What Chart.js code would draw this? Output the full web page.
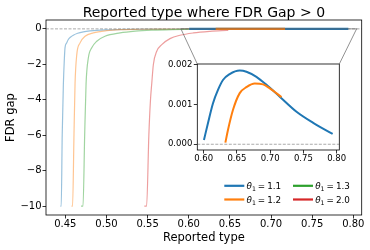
<!DOCTYPE html>
<html><head><meta charset="utf-8">
<script src="https://cdn.jsdelivr.net/npm/chart.js@4.4.0/dist/chart.umd.min.js"></script>
<style>html,body{margin:0;padding:0;background:#fff;}#wrap{position:relative;width:370px;height:250px;}canvas{position:absolute;left:0;top:0;}</style>
</head><body><div id="wrap"><canvas id="main" width="370" height="250"></canvas><canvas id="inset" width="370" height="250"></canvas></div>
<script>
// ---- data ----
const chartTitle = 'Reported type where FDR Gap > 0';
const thetaLabels = ['1.1', '1.2', '1.3', '2.0'];
const colors = ['#1f77b4', '#ff7f0e', '#2ca02c', '#d62728'];
const fadedColors = ['rgba(31,119,180,0.45)', 'rgba(255,127,14,0.45)', 'rgba(44,160,44,0.45)', 'rgba(214,39,40,0.45)'];

// full FDR gap curves (faded)
const gapX11 = [0.4440, 0.4450, 0.4462, 0.4476, 0.4487, 0.4496, 0.4515, 0.4536, 0.4565, 0.4597, 0.4650, 0.4719, 0.4800, 0.4882, 0.5000, 0.5125, 0.5300, 0.5500, 0.5750, 0.6000];
const gapY11 = [-10, -10, -6, -3.15, -1.8, -1.07, -0.8, -0.6, -0.46, -0.36, -0.25, -0.17, -0.115, -0.08, -0.055, -0.04, -0.028, -0.017, -0.008, 0];
const gapX12 = [0.4575, 0.4588, 0.4605, 0.4618, 0.4639, 0.4679, 0.4740, 0.4840, 0.5003, 0.5165, 0.5400, 0.5700, 0.6000, 0.6330];
const gapY12 = [-10, -10, -6, -3.1, -1.45, -0.79, -0.42, -0.23, -0.1, -0.045, -0.022, -0.011, -0.005, 0];
const gapX13 = [0.4691, 0.4715, 0.4735, 0.4752, 0.4780, 0.4821, 0.4882, 0.4982, 0.5165, 0.5350, 0.5550, 0.5800, 0.6100, 0.6400];
const gapY13 = [-10, -10, -6, -3.1, -1.63, -1.07, -0.70, -0.42, -0.23, -0.13, -0.075, -0.04, -0.02, -0.01];
const gapX20 = [0.5460, 0.5488, 0.5515, 0.5535, 0.5550, 0.5570, 0.5611, 0.5672, 0.5772, 0.5894, 0.6056, 0.6259, 0.6461, 0.6480];
const gapY20 = [-10, -10, -6, -4, -3.1, -2.01, -1.26, -0.89, -0.55, -0.36, -0.23, -0.14, -0.085, -0.08];

// positive part of the FDR gap (solid, also in inset)
const posX11 = [0.6005, 0.6065, 0.6140, 0.6216, 0.6291, 0.6392, 0.6543, 0.6644, 0.6794, 0.6945, 0.7145, 0.7397, 0.7647, 0.7940];
const posY11 = [0.000108, 0.00053, 0.00103, 0.00137, 0.00162, 0.00177, 0.00186, 0.00183, 0.0017, 0.0015, 0.0012, 0.00082, 0.00054, 0.00026];
const posX12 = [0.6327, 0.6366, 0.6442, 0.6543, 0.6644, 0.6769, 0.6894, 0.6995, 0.7171];
const posY12 = [0.00004, 0.00036, 0.00087, 0.00129, 0.00144, 0.00153, 0.00151, 0.00141, 0.00119];

// ticks and ranges
const mainXTicks = [0.45, 0.50, 0.55, 0.60, 0.65, 0.70, 0.75, 0.80];
const mainYTicks = [0, -2, -4, -6, -8, -10];
const insetXTicks = [0.60, 0.65, 0.70, 0.75, 0.80];
const insetYTicks = [0, 0.001, 0.002];
const mainXRange = [0.4265, 0.8102];
const mainYRange = [-10.5, 0.5];
const insetXRange = [0.5905, 0.8040];
const insetYRange = [-0.000145, 0.002025];

// ---- helpers ----
const FONT = 'DejaVu Sans';
const pts = (xs, ys) => xs.map((x, i) => ({x: x, y: ys[i]}));
function lineDS(data, color, width, order, extra) {
  return Object.assign({data: data, borderColor: color, borderWidth: width, pointRadius: 0, fill: false,
    order: order, cubicInterpolationMode: 'monotone'}, extra || {});
}
const framePlugin = {id: 'frame', afterDraw(chart) {
  const a = chart.chartArea, ctx = chart.ctx;
  ctx.save(); ctx.strokeStyle = '#000'; ctx.lineWidth = 0.8;
  ctx.strokeRect(a.left, a.top, a.right - a.left, a.bottom - a.top); ctx.restore();
}};
const whiteBg = {id: 'whitebg', beforeDraw(chart) {
  const a = chart.chartArea, ctx = chart.ctx;
  ctx.save(); ctx.fillStyle = '#fff'; ctx.fillRect(a.left, a.top, a.right - a.left, a.bottom - a.top); ctx.restore();
}};
const titlePlugin = {id: 'ttl', afterDraw(chart) {
  const a = chart.chartArea, ctx = chart.ctx;
  ctx.save(); ctx.fillStyle = '#000'; ctx.font = '14px "' + FONT + '"';
  ctx.textAlign = 'center'; ctx.textBaseline = 'alphabetic';
  ctx.fillText(chartTitle, (a.left + a.right) / 2, a.top - 2.8); ctx.restore();
}};
const legendPlugin = {id: 'lg', afterDraw(chart) {
  const ctx = chart.ctx, a = chart.chartArea;
  const order = [0, 1, 2, 3];
  const colX = [a.right - 137.4, a.right - 68.7];
  const rowY = [a.bottom - 29.2, a.bottom - 15.5];
  ctx.save();
  order.forEach((k, i) => {
    const cx = colX[Math.floor(i / 2)], cy = rowY[i % 2];
    ctx.strokeStyle = colors[k]; ctx.lineWidth = 2.2;
    ctx.beginPath(); ctx.moveTo(cx, cy); ctx.lineTo(cx + 20, cy); ctx.stroke();
    let tx = cx + 22.2; const base = cy + 3.2;
    ctx.fillStyle = '#000'; ctx.textBaseline = 'alphabetic'; ctx.textAlign = 'left';
    ctx.font = 'italic 8.8px "' + FONT + '"'; ctx.fillText('θ', tx, base); tx += ctx.measureText('θ').width;
    ctx.font = '6.2px "' + FONT + '"'; ctx.fillText('1', tx, base + 1.8); tx += ctx.measureText('1').width + 2.0;
    ctx.font = '8.8px "' + FONT + '"'; ctx.fillText('=', tx, base); tx += ctx.measureText('=').width + 2.0;
    ctx.fillText(thetaLabels[k], tx, base);
  });
  ctx.restore();
}};
const tickGrid = {drawOnChartArea: false, drawTicks: true, tickLength: 3.5, color: '#000', lineWidth: 0.8};

// ---- main chart ----
const mainChart = new Chart(document.getElementById('main'), {
  type: 'line',
  data: {datasets: [
    lineDS(pts(mainXRange, [0, 0]), '#a0a0a0', 0.9, 10, {borderDash: [3, 1.5], cubicInterpolationMode: 'default'}),
    lineDS(pts(gapX11, gapY11), fadedColors[0], 1.2, 9),
    lineDS(pts(gapX12, gapY12), fadedColors[1], 1.2, 8),
    lineDS(pts(gapX13, gapY13), fadedColors[2], 1.2, 7),
    lineDS(pts(gapX20, gapY20), fadedColors[3], 1.2, 6),
    lineDS(pts(posX11, posY11), colors[0], 2.2, 2),
    lineDS(pts(posX12, posY12), colors[1], 2.2, 1)
  ]},
  options: {
    responsive: false, animation: false, devicePixelRatio: 1,
    layout: {padding: {top: 20, right: 8.3, left: 0, bottom: 0}},
    plugins: {legend: {display: false}, tooltip: {enabled: false}, title: {display: false}},
    scales: {
      x: {type: 'linear', min: mainXRange[0], max: mainXRange[1],
        afterFit(s) { s.height = 35; },
        afterBuildTicks(s) { s.ticks = mainXTicks.map(v => ({value: v})); },
        ticks: {autoSkip: false, maxRotation: 0, padding: 0, color: '#000', font: {family: FONT, size: 10},
          callback: v => v.toFixed(2)},
        grid: tickGrid, border: {display: false},
        title: {display: true, text: 'Reported type', color: '#000', font: {family: FONT, size: 11.5}, padding: {top: 0, bottom: 5}}},
      y: {type: 'linear', min: mainYRange[0], max: mainYRange[1],
        afterFit(s) { s.width = 46; },
        afterBuildTicks(s) { s.ticks = mainYTicks.map(v => ({value: v})); },
        ticks: {autoSkip: false, padding: 1, color: '#000', font: {family: FONT, size: 10},
          callback: v => v === 0 ? '0' : (v < 0 ? '\u2212' : '') + Math.abs(v)},
        grid: tickGrid, border: {display: false},
        title: {display: true, text: 'FDR gap', color: '#000', font: {family: FONT, size: 11.5}, padding: {top: 4, bottom: 0}}}
    }
  },
  plugins: [framePlugin, titlePlugin, legendPlugin]
});

// ---- inset chart ----
const connPlugin = {id: 'conn', afterDraw(chart) {
  const ctx = chart.ctx, a = chart.chartArea, mx = mainChart.scales.x, my = mainChart.scales.y;
  const x0 = mx.getPixelForValue(insetXRange[0]), x1 = mx.getPixelForValue(insetXRange[1]);
  const yT = my.getPixelForValue(insetYRange[1]), yB = my.getPixelForValue(insetYRange[0]);
  ctx.save(); ctx.strokeStyle = 'rgba(100,100,100,0.7)'; ctx.lineWidth = 1;
  ctx.strokeRect(x0, yT, x1 - x0, yB - yT);
  ctx.beginPath(); ctx.moveTo(x0, yB); ctx.lineTo(a.left, a.top); ctx.moveTo(x1, yB); ctx.lineTo(a.right, a.top); ctx.stroke();
  ctx.restore();
}};
new Chart(document.getElementById('inset'), {
  type: 'line',
  data: {datasets: [
    lineDS(pts(insetXRange, [0, 0]), '#a0a0a0', 0.9, 10, {borderDash: [3, 1.5], cubicInterpolationMode: 'default'}),
    lineDS(pts(posX11, posY11), colors[0], 2.0, 2),
    lineDS(pts(posX12, posY12), colors[1], 2.0, 1)
  ]},
  options: {
    responsive: false, animation: false, devicePixelRatio: 1,
    layout: {padding: {top: 64, right: 30.7, left: 162.3, bottom: 80}},
    plugins: {legend: {display: false}, tooltip: {enabled: false}},
    scales: {
      x: {type: 'linear', min: insetXRange[0], max: insetXRange[1],
        afterFit(s) { s.height = 20; },
        afterBuildTicks(s) { s.ticks = insetXTicks.map(v => ({value: v})); },
        ticks: {autoSkip: false, maxRotation: 0, padding: 0.5, color: '#000', font: {family: FONT, size: 8.5},
          callback: v => v.toFixed(2)},
        grid: tickGrid, border: {display: false}},
      y: {type: 'linear', min: insetYRange[0], max: insetYRange[1],
        afterFit(s) { s.width = 35; },
        afterBuildTicks(s) { s.ticks = insetYTicks.map(v => ({value: v})); },
        ticks: {autoSkip: false, padding: 1.5, color: '#000', font: {family: FONT, size: 8.5},
          callback: v => v.toFixed(3)},
        grid: tickGrid, border: {display: false}}
    }
  },
  plugins: [whiteBg, framePlugin, connPlugin]
});
</script></body></html>
